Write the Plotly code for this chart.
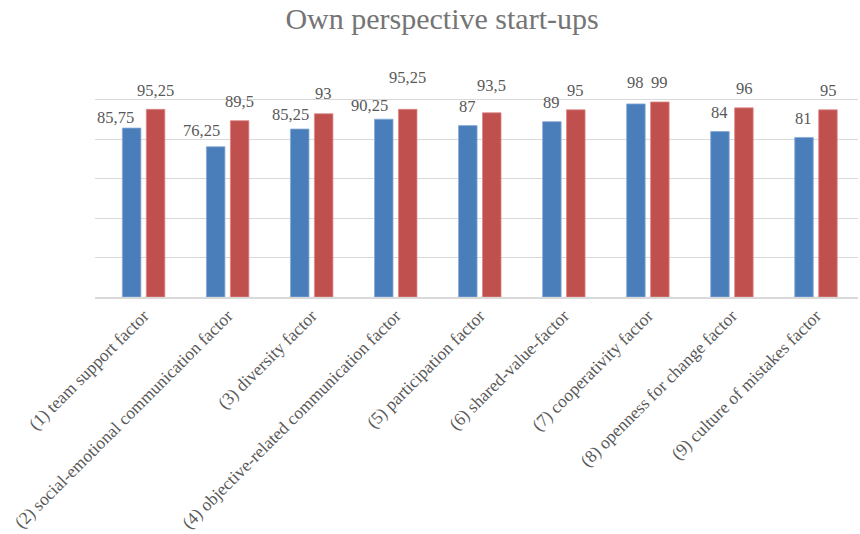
import plotly.graph_objects as go

categories = [
    "(1) team support factor",
    "(2) social-emotional communication factor",
    "(3) diversity factor",
    "(4) objective-related communication factor",
    "(5) participation factor",
    "(6) shared-value-factor",
    "(7) cooperativity factor",
    "(8) openness for change factor",
    "(9) culture of mistakes factor",
]
series_a = [85.75, 76.25, 85.25, 90.25, 87, 89, 98, 84, 81]
series_b = [95.25, 89.5, 93, 95.25, 93.5, 95, 99, 96, 95]

# label nudges (px) mimicking the reference's label placement
dx_a = [-16, -14, -9, -14, 0, 0, 0, 0, 0]
dy_a = [-8, -3, -4, -5, 0, 0, 2, 0, 0]
dx_b = [0, 0, 0, 0, 0, 0, 0, 0, 0]
dy_b = [0, 0, 1, 13, 8, 0, 0, 0, 0]

BLUE = "#4a7ebb"
RED = "#c0504d"
SERIF = "'Times New Roman', 'Liberation Serif', 'DejaVu Serif', serif"

fig = go.Figure()
fig.add_trace(go.Bar(x=categories, y=series_a, name="A",
                     marker=dict(color=BLUE, line=dict(width=0.8, color="#86a9d6"))))
fig.add_trace(go.Bar(x=categories, y=series_b, name="B",
                     marker=dict(color=RED, line=dict(width=0.8, color="#dc8886"))))


def fmt(v):
    s = ("%g" % v)
    return s.replace(".", ",")


annotations = []
for i, c in enumerate(categories):
    for vals, dxs, dys, base in ((series_a, dx_a, dy_a, -12.1), (series_b, dx_b, dy_b, 12.1)):
        annotations.append(dict(
            x=c, y=vals[i], xref="x", yref="y", text=fmt(vals[i]), showarrow=False,
            xanchor="center", yanchor="middle", xshift=base + dxs[i], yshift=19 + dys[i],
            font=dict(family=SERIF, size=16.5, color="#595959"),
        ))

fig.update_layout(
    width=860, height=534,
    margin=dict(l=95, r=2, t=60, b=237, autoexpand=False),
    paper_bgcolor="white", plot_bgcolor="white",
    showlegend=False,
    font=dict(family=SERIF),
    barmode="group", bargap=0.43, bargroupgap=0.227,
    title=dict(text="Own perspective start-ups", x=0.514, xanchor="center", y=0.965, yanchor="middle",
               font=dict(family=SERIF, size=30, color="#757575")),
    annotations=annotations,
    xaxis=dict(tickangle=-45, tickfont=dict(family=SERIF, size=17.5, color="#595959"), automargin=False,
               showline=True, linecolor="#d9d9d9", linewidth=1.5, ticks="", showgrid=False),
    yaxis=dict(range=[0, 120.3], dtick=20, showticklabels=False, showgrid=True, gridcolor="#d9d9d9",
               gridwidth=1, zeroline=False, showline=False, ticks="", automargin=False),
)

fig.write_html("out.html", config={"displayModeBar": False},
               post_script="document.body.style.margin='0';")
